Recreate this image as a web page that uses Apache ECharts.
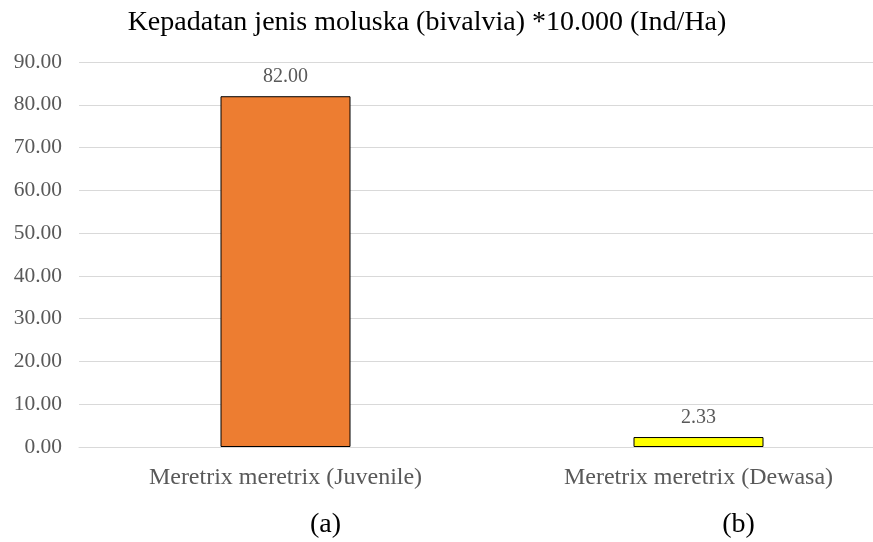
<!DOCTYPE html>
<html><head><meta charset="utf-8">
<script src="https://cdn.jsdelivr.net/npm/echarts@6/dist/echarts.min.js"></script>
<style>html,body{margin:0;padding:0;background:#fff;overflow:hidden}#c{width:873px;height:542px;overflow:hidden}</style>
</head><body><div id="c"></div>
<script>
const categories = ['Meretrix meretrix (Juvenile)', 'Meretrix meretrix (Dewasa)'];
const tags = ['(a)', '(b)'];
const values = [82.00, 2.33];
const colors = ['#ED7D31', '#FFFF00'];
const titleText = 'Kepadatan jenis moluska (bivalvia) *10.000 (Ind/Ha)';

const chart = echarts.init(document.getElementById('c'), null, { width: 905, height: 542 });
const font = '"Liberation Serif", "Times New Roman", serif';
chart.setOption({
  animation: false,
  backgroundColor: '#fff',
  title: {
    text: titleText, left: 422, top: 4, textAlign: 'center',
    textStyle: { fontFamily: font, fontSize: 28, fontWeight: 'normal', color: '#000' }
  },
  grid: { left: 79, top: 62, right: 0, bottom: 95, containLabel: false },
  xAxis: {
    type: 'category', data: categories,
    axisLine: { show: true, lineStyle: { color: '#D9D9D9', width: 1 } },
    axisTick: { show: false },
    axisLabel: {
      margin: 17,
      formatter: (v, i) => '{c|' + v + '}\n{s|' + tags[i] + '}',
      rich: {
        c: { fontFamily: font, fontSize: 24, color: '#595959', lineHeight: 28 },
        s: { fontFamily: font, fontSize: 28, color: '#000', lineHeight: 32, padding: [34, 0, 0, 80] }
      }
    }
  },
  yAxis: {
    type: 'value', min: 0, max: 90, interval: 10,
    axisLine: { show: false }, axisTick: { show: false },
    axisLabel: { formatter: v => v.toFixed(2), fontFamily: font, fontSize: 21.5, color: '#595959', margin: 17 },
    splitLine: { lineStyle: { color: '#D9D9D9', width: 1 } }
  },
  series: [{
    type: 'bar', barWidth: 130,
    data: values.map((v, i) => ({ value: v, itemStyle: { color: colors[i] } })),
    itemStyle: { borderColor: '#000', borderWidth: 1 },
    label: { show: true, position: 'top', distance: 9, formatter: p => p.value.toFixed(2),
      fontFamily: font, fontSize: 20, color: '#595959' }
  }]
});
</script></body></html>
